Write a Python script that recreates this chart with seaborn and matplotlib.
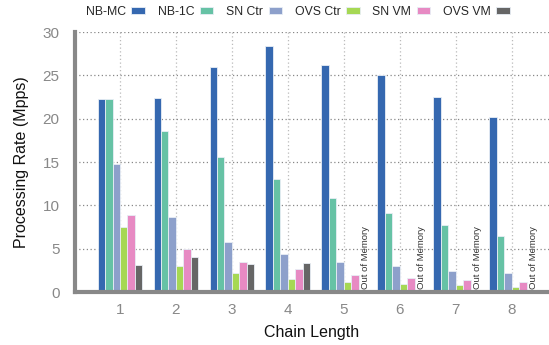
import numpy as np
import pandas as pd
import seaborn as sns
import matplotlib
matplotlib.use("Agg")
import matplotlib.pyplot as plt

chain_lengths = ["1", "2", "3", "4", "5", "6", "7", "8"]
series = ["NB-MC", "NB-1C", "SN Ctr", "OVS Ctr", "SN VM", "OVS VM"]
nb_mc = [22.3, 22.4, 26.0, 28.45, 26.25, 25.05, 22.5, 20.2]
nb_1c = [22.3, 18.6, 15.6, 13.0, 10.9, 9.1, 7.7, 6.5]
sn_ctr = [14.8, 8.6, 5.8, 4.4, 3.5, 2.95, 2.45, 2.2]
ovs_ctr = [7.5, 2.95, 2.2, 1.5, 1.2, 0.9, 0.8, 0.6]
sn_vm = [8.9, 5.0, 3.5, 2.7, 2.0, 1.6, 1.4, 1.2]
ovs_vm = [3.1, 4.0, 3.2, 3.3, np.nan, np.nan, np.nan, np.nan]
colors = ["#3568b0", "#66c2a5", "#8da0cb", "#a6d854", "#e78ac3", "#666666"]
oom_label = "Out of Memory"

values = [nb_mc, nb_1c, sn_ctr, ovs_ctr, sn_vm, ovs_vm]
rows = []
for s, vals in zip(series, values):
    for c, v in zip(chain_lengths, vals):
        rows.append({"Chain Length": c, "series": s, "value": v})
df = pd.DataFrame(rows)

sns.set_style("white")
plt.rcParams["font.family"] = ["Liberation Sans", "DejaVu Sans"]

fig = plt.figure(figsize=(5.49, 3.45), dpi=100)
ax = fig.add_axes([0.1366, 0.1536, 0.8634, 0.7534])

sns.barplot(data=df, x="Chain Length", y="value", hue="series",
            order=chain_lengths, hue_order=series, palette=colors,
            saturation=1, width=0.8, edgecolor="#e8eef5", linewidth=0.6,
            ax=ax, errorbar=None)

ax.set_ylim(0, 30)
ax.set_xlim(-0.804, 7.667)
ax.set_yticks(range(0, 31, 5))
ax.yaxis.grid(True, linestyle=(0, (1, 2)), color="#888888", linewidth=0.9)
ax.xaxis.grid(True, linestyle=(0, (1, 2)), color="#bbbbbb", linewidth=0.9)
ax.set_axisbelow(True)

for side in ["top", "right"]:
    ax.spines[side].set_visible(False)
for side in ["left", "bottom"]:
    ax.spines[side].set_color("#888888")
    ax.spines[side].set_linewidth(3)
ax.tick_params(axis="y", direction="in", length=5, width=3, color="#888888",
               labelsize=11, labelcolor="#888888", pad=11)
ax.tick_params(axis="x", length=0, labelsize=11, labelcolor="#888888", pad=8)

ax.set_xlabel("Chain Length", fontsize=11.5, color="#111111", labelpad=6)
ax.set_ylabel("Processing Rate (Mpps)", fontsize=11.5, color="#111111", labelpad=10)

# Out of Memory annotations at the missing OVS VM bars
n = len(series)
bw = 0.8 / n
for i, v in enumerate(ovs_vm):
    if np.isnan(v):
        xpos = i - 0.4 + bw * (n - 0.5) + 0.05
        ax.text(xpos, 0.35, oom_label, rotation=90, ha="center", va="bottom",
                fontsize=6.8, color="#333333")

handles, labels = ax.get_legend_handles_labels()
ax.legend(handles, labels, loc="center", bbox_to_anchor=(0.47, 1.077),
          ncol=6, frameon=False, markerfirst=False, fontsize=8.8,
          handlelength=1.1, handleheight=0.55, columnspacing=1.05,
          handletextpad=0.45, borderaxespad=0)

fig.savefig("out.png", dpi=100)
